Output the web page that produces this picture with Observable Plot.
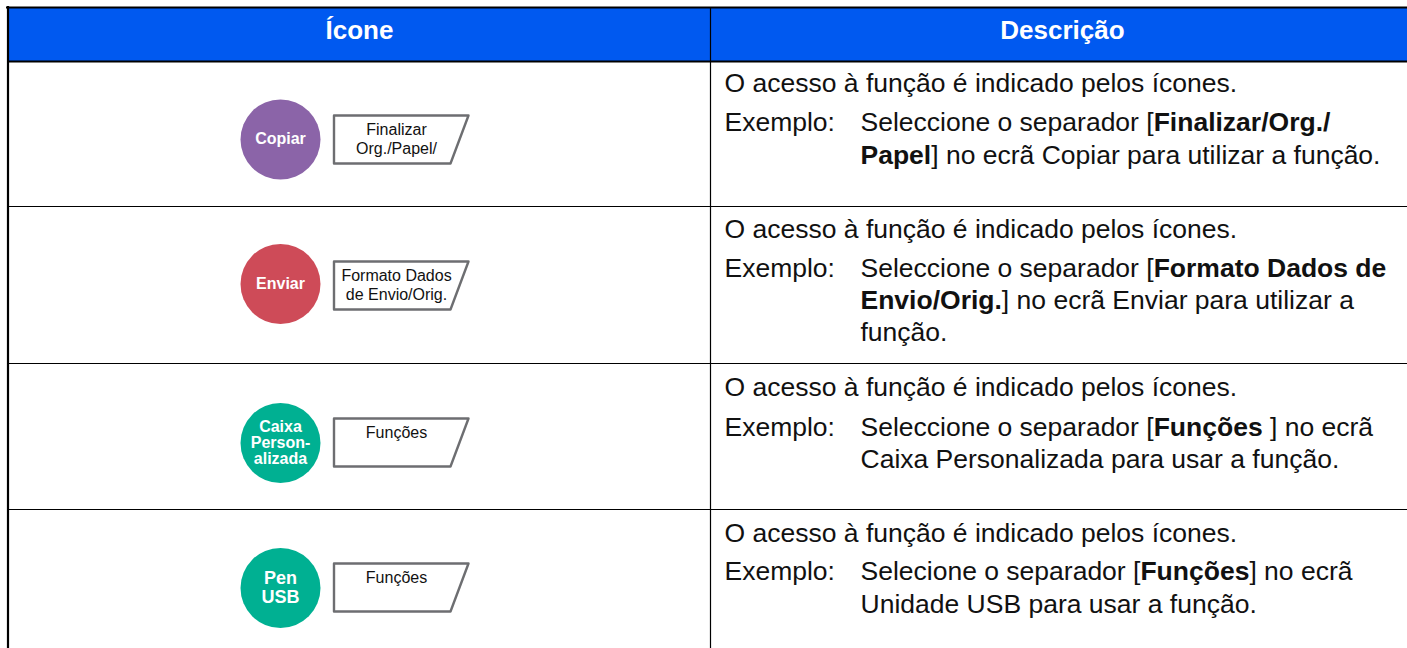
<!DOCTYPE html>
<html><head><meta charset="utf-8">
<script src="https://cdn.jsdelivr.net/npm/d3@7"></script>
<script src="https://cdn.jsdelivr.net/npm/@observablehq/plot@0.6"></script>
<style>html,body{margin:0;padding:0;background:#fff}svg{display:block}</style>
</head><body><div id="c"></div>
<script>
const headers = ["Ícone", "Descrição"];
const circleLabels = [["Copiar"], ["Enviar"], ["Caixa", "Person-", "alizada"], ["Pen", "USB"]];
const circleColors = ["#8B64A8", "#CE4B58", "#00B092", "#00B092"];
const circleCenters = [138.5, 283.5, 442, 587.5];
const circleFont = [16, 16, 16, 18];
const circleLead = [0, 0, 16, 19];
const tabLabels = [["Finalizar", "Org./Papel/"], ["Formato Dados", "de Envio/Orig."], ["Funções"], ["Funções"]];
const tabTops = [115, 261, 418, 563];
const intro = "O acesso à função é indicado pelos ícones.";
const exampleWord = "Exemplo:";
const introY = [83, 229, 387, 533];
const exampleY = [122, 268, 427, 571];
const lines = [
  [[122, "Seleccione o separador [**Finalizar/Org./**"], [155, "**Papel**] no ecrã Copiar para utilizar a função."]],
  [[268, "Seleccione o separador [**Formato Dados de**"], [300, "**Envio/Orig.**] no ecrã Enviar para utilizar a"], [332, "função."]],
  [[427, "Seleccione o separador [**Funções** ] no ecrã"], [459, "Caixa Personalizada para usar a função."]],
  [[571, "Selecione o separador [**Funções**] no ecrã"], [604, "Unidade USB para usar a função."]]
];
const rowRules = [206, 363, 509];

const FONT = "'Liberation Sans', Arial, sans-serif";
const rows = d3.range(4);
const circles = rows.map(i => ({x: 280, y: [139, 283.5, 442.5, 587.5][i], fill: circleColors[i]}));
const circleText = rows.flatMap(i => circleLabels[i].map((t, k) => ({
  t, x: 280, size: circleFont[i],
  y: circleCenters[i] + (k - (circleLabels[i].length - 1) / 2) * circleLead[i]
})));
const tabs = rows.flatMap(i => [[333.5,0],[468,0],[450,48],[333.5,48],[333.5,0]].map(([x, dy]) => ({x, y: tabTops[i] + dy, row: i})));
const tabText = rows.flatMap(i => tabLabels[i].map((t, k) => ({t, x: 396, y: tabTops[i] + 14 + k * 19})));
const body = [
  ...rows.map(i => ({t: intro, x: 724, y: introY[i]})),
  ...rows.map(i => ({t: exampleWord, x: 724, y: exampleY[i]})),
  ...lines.flatMap(r => r.map(([y, t]) => ({t, x: 860, y})))
];

function richText(index, scales, values, dimensions, context, next) {
  const g = next(index, scales, values, dimensions, context);
  d3.select(g).selectAll("text").each(function () {
    const raw = this.textContent, sel = d3.select(this);
    if (!raw.includes("**")) return;
    sel.text(null);
    raw.split("**").forEach((s, k) => {
      if (s) sel.append("tspan").attr("font-weight", k % 2 ? "bold" : "normal").text(s);
    });
  });
  return g;
}

const chart = Plot.plot({
  width: 1407, height: 648, margin: 0,
  x: {type: "linear", domain: [0, 1407], range: [0, 1407], axis: null},
  y: {type: "linear", domain: [0, 648], range: [0, 648], axis: null},
  style: {fontFamily: FONT, background: "#fff"},
  marks: [
    Plot.rect([{x1: 8, x2: 1407, y1: 7, y2: 61}], {x1: "x1", x2: "x2", y1: "y1", y2: "y2", fill: "#0059F0", inset: 0}),
    Plot.ruleY(rowRules, {stroke: "#000", strokeWidth: 1.2, x1: 8, x2: 1407}),
    Plot.ruleY([7], {stroke: "#000", strokeWidth: 2.2, x1: 6, x2: 1407}),
    Plot.ruleY([61], {stroke: "#000", strokeWidth: 2.2, x1: 8, x2: 1407}),
    Plot.ruleX([7.5], {stroke: "#000", strokeWidth: 2.2, y1: 6, y2: 648}),
    Plot.ruleX([710], {stroke: "#000", strokeWidth: 1.2, y1: 7, y2: 648}),
    Plot.text(headers, {x: [359, 1062], y: [30, 30], text: d => d, fill: "#fff", fontWeight: "bold", fontSize: 26, textAnchor: "middle", lineAnchor: "middle"}),
    Plot.dot(circles, {x: "x", y: "y", r: 40, fill: "fill", stroke: null}),
    Plot.text(circleText, {x: "x", y: "y", text: "t", fontSize: "size", fill: "#fff", fontWeight: "bold", textAnchor: "middle", lineAnchor: "middle"}),
    Plot.line(tabs, {x: "x", y: "y", z: "row", stroke: "#6D6E71", strokeWidth: 2.4, fill: "#fff", curve: "linear"}),
    Plot.text(tabText, {x: "x", y: "y", text: "t", fontSize: 16, fill: "#111", textAnchor: "middle", lineAnchor: "middle"}),
    Plot.text(body, {x: "x", y: "y", text: "t", fontSize: 26.5, fill: "#111", textAnchor: "start", lineAnchor: "middle", render: richText})
  ]
});
document.getElementById("c").appendChild(chart);
</script></body></html>
